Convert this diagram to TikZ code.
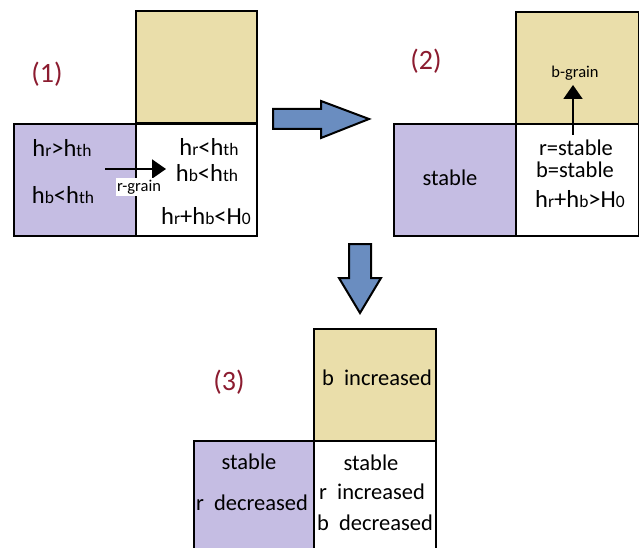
\documentclass[tikz,border=0pt]{standalone}
\usepackage{fontspec}
\setmainfont{Carlito}
\usetikzlibrary{arrows.meta}
\definecolor{sand}{RGB}{234,222,170}
\definecolor{lilac}{RGB}{197,189,227}
\definecolor{steel}{RGB}{106,141,192}
\definecolor{maroon}{RGB}{140,28,48}
% smaller letters used for the indices in the height formulas
\newcommand\lo[1]{{\fontsize{17.5}{17.5}\selectfont #1}}
\tikzset{
  cell/.style={draw=black, line width=2pt, anchor=north west, inner sep=0pt,
    minimum width=#1, minimum height=112pt},
  cell/.default=122pt,
  txt/.style={inner sep=0pt, font=\fontsize{22.5}{22.5}\selectfont},
  eqn/.style={inner sep=0pt, font=\fontsize{24.5}{24.5}\selectfont},
  small/.style={inner sep=0pt, font=\fontsize{16.5}{16.5}\selectfont},
  tag/.style={inner sep=0pt, text=maroon, font=\fontsize{28}{28}\selectfont},
  grain/.style={line width=2pt, -{Triangle[length=14pt,width=19pt]}},
  block/.style={draw=black, line width=2pt, fill=steel, line join=miter},
}
\begin{document}
\begin{tikzpicture}[x=1pt,y=-1pt]
\clip (0,0) rectangle (639,548);
\fill[white] (0,0) rectangle (639,548);

% ---- state (1)
\node[tag] (t1) at (47,74) {(1)};
\node[cell=121pt, fill=sand]  (y1) at (135,10)  {};
\node[cell, fill=lilac]       (p1) at (13,123)  {};
\node[cell=121pt, fill=white] (w1) at (135,123) {};
\node[eqn] at (62,148)  {h\lo{r}>h\lo{th}};
\node[eqn] at (63,195)  {h\lo{b}<h\lo{th}};
\node[eqn] at (209,147) {h\lo{r}<h\lo{th}};
\node[eqn] at (207,173) {h\lo{b}<h\lo{th}};
\node[eqn] at (206,216) {h\lo{r}+h\lo{b}<H\lo{0}};
\coordinate (rs) at (105,169);
\coordinate (re) at (166,169);
\draw[grain] (rs) -- (re);
\node[small, fill=white, inner xsep=1.5pt, inner ysep=2pt] (rg) at (139,187) {r-grain};

% ---- transition arrow (1) -> (2)
\draw[block] (273,109) -- (321,109) -- (321,101) -- (369,119) -- (321,138)
  -- (321,129) -- (273,129) -- cycle;

% ---- state (2)
\node[tag] (t2) at (426,61) {(2)};
\node[cell=123pt, fill=sand]  (y2) at (515,11)  {};
\node[cell, fill=lilac]       (p2) at (393,123) {};
\node[cell=123pt, fill=white] (w2) at (515,123) {};
\node[txt] at (450,178) {stable};
\node[txt] at (576,148) {r=stable};
\node[txt] at (575,170) {b=stable};
\node[eqn] at (580,199) {h\lo{r}+h\lo{b}>H\lo{0}};
\node[small] (bg) at (575,73) {b-grain};
\coordinate (bs) at (573,135);
\coordinate (be) at (573,85);
\draw[grain] (bs) -- (be);

% ---- transition arrow (2) -> (3)
\draw[block] (349,244) -- (371,244) -- (371,278) -- (381,278) -- (360,313)
  -- (339,278) -- (349,278) -- cycle;

% ---- state (3)
\node[tag] (t3) at (229,382) {(3)};
\node[cell, fill=sand]                 (y3) at (313,328) {};
\node[cell=120pt, fill=lilac]          (p3) at (193,440) {};
\node[cell, fill=white]                (w3) at (313,440) {};
\node[txt] at (377,378) {b\ \ increased};
\node[txt] at (249,462) {stable};
\node[txt] at (252,503) {r\ \ decreased};
\node[txt] at (371,463) {stable};
\node[txt] at (372,492) {r\ \ increased};
\node[txt] at (375,523) {b\ \ decreased};
\end{tikzpicture}
\end{document}
